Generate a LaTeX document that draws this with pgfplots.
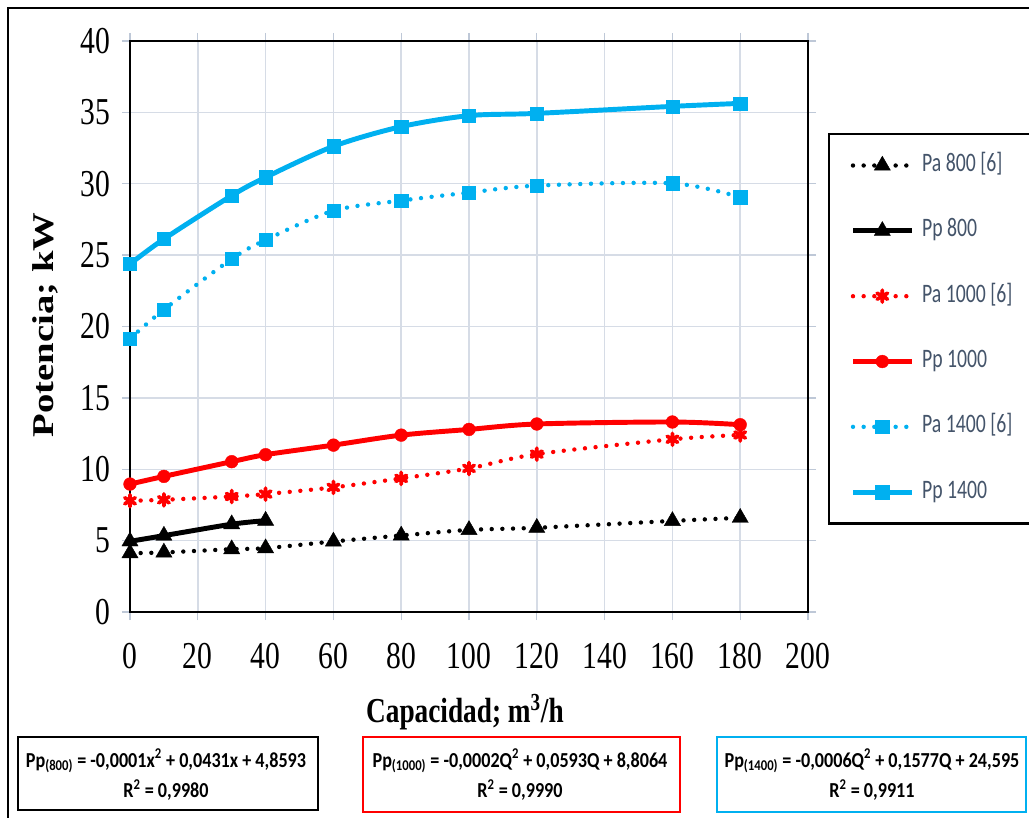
\documentclass[border=0pt]{standalone}
\usepackage{fontspec}
\usepackage{pgfplots}
\usepackage{pgfplotstable}
\pgfplotsset{compat=1.18}
\newfontfamily\tickfont[FakeStretch=0.78]{Liberation Serif}
\newfontfamily\serifplain{Liberation Serif}
\newfontfamily\legfont[FakeStretch=0.74]{Carlito}
\newfontfamily\boxfont[FakeStretch=0.85]{Carlito}
\definecolor{cyanx}{RGB}{0,176,240}
\definecolor{redx}{RGB}{255,0,0}
\definecolor{legtext}{RGB}{68,84,106}
\definecolor{gridc}{RGB}{214,220,230}
\definecolor{tickc}{RGB}{190,200,215}

\pgfplotstableread{
x y
0 4.12
10 4.17
30 4.40
40 4.47
60 4.94
80 5.36
100 5.75
120 5.90
160 6.38
180 6.60
}\paEight
\pgfplotstableread{
x y
0 4.95
10 5.35
30 6.15
40 6.40
}\ppEight
\pgfplotstableread{
x y
0 7.79
10 7.86
30 8.09
40 8.26
60 8.73
80 9.36
100 10.06
120 11.06
160 12.10
180 12.40
}\paMil
\pgfplotstableread{
x y
0 8.96
10 9.50
30 10.53
40 11.02
60 11.69
80 12.39
100 12.79
120 13.17
160 13.31
180 13.12
}\ppMil
\pgfplotstableread{
x y
0 19.15
10 21.18
30 24.73
40 26.06
60 28.11
80 28.82
100 29.38
120 29.87
160 30.03
180 29.05
}\paCuatro
\pgfplotstableread{
x y
0 24.38
10 26.13
30 29.17
40 30.45
60 32.62
80 34.00
100 34.77
120 34.93
160 35.42
180 35.63
}\ppCuatro

\begin{document}
\begin{tikzpicture}
\path[use as bounding box] (0,0) rectangle (771.75pt,613.5pt);
\begin{scope}[x=0.75pt,y=0.75pt]
  % outer frame
  \draw[line width=2.2pt,black] (8,-5) -- (8,810) -- (1040,810);
\end{scope}
\begin{axis}[
  at={(97.5pt,154.5pt)}, anchor=south west,
  scale only axis, width=508.5pt, height=428.25pt,
  xmin=0, xmax=200, ymin=0, ymax=40,
  xtick={0,20,...,200}, ytick={0,5,...,40},
  clip=false,
  grid=major,
  major grid style={gridc, line width=1.1pt},
  tick align=outside,
  major tick length=6pt,
  tick style={tickc, line width=1pt},
  axis line style={black, line width=1.3pt},
  /pgf/number format/assume math mode=true,
  ticklabel style={font=\tickfont\fontsize{28.5}{30}\selectfont},
  xticklabel style={yshift=-14pt},
  yticklabel style={xshift=-5pt},
  xlabel={\textbf{Capacidad; m\textsuperscript{3}/h}},
  xlabel style={font=\tickfont\fontsize{26.25}{30}\selectfont, at={(axis description cs:0.494,-0.175)}, anchor=center},
  ylabel={\scalebox{1}[0.78]{\serifplain\bfseries\fontsize{29}{30}\selectfont Potencia; kW}},
  ylabel style={at={(axis description cs:-0.125,0.503)}, anchor=center},
  legend style={at={(1.0295,0.8389)}, anchor=north west,
    draw=black, line width=1.8pt, inner xsep=16pt, inner ysep=15pt,
    row sep=32pt, column sep=6pt,
    nodes={inner sep=0pt, text height=13pt, text depth=4pt},
    font=\legfont\fontsize{20}{22}\selectfont, text=legtext},
  legend cell align=left,
  legend image code/.code={\draw[mark repeat=2,mark phase=2] plot coordinates {(0pt,0pt)(22pt,0pt)(44pt,0pt)};},
]
\addplot[black, line width=3.3pt, dash pattern=on 0pt off 8pt, line cap=round, smooth,
  mark=triangle*, mark size=7pt, mark options={solid, line width=0.3pt, fill=black}]
  table[x=x,y=y]{\paEight};
\addlegendentry{Pa 800 [6]}
\addplot[black, line width=3.7pt, smooth,
  mark=triangle*, mark size=7pt, mark options={solid, line width=0.3pt, fill=black}]
  table[x=x,y=y]{\ppEight};
\addlegendentry{Pp 800}
\addplot[redx, line width=3.3pt, dash pattern=on 0pt off 8pt, line cap=round, smooth,
  mark=asterisk, mark size=4.5pt, mark options={solid, line width=2.8pt}]
  table[x=x,y=y]{\paMil};
\addlegendentry{Pa 1000 [6]}
\addplot[redx, line width=3.7pt, smooth,
  mark=*, mark size=4.8pt, mark options={solid, fill=redx, line width=0.3pt}]
  table[x=x,y=y]{\ppMil};
\addlegendentry{Pp 1000}
\addplot[cyanx, line width=3.3pt, dash pattern=on 0pt off 8pt, line cap=round, smooth,
  mark=square*, mark size=5pt, mark options={solid, fill=cyanx, line width=0.3pt}]
  table[x=x,y=y]{\paCuatro};
\addlegendentry{Pa 1400 [6]}
\addplot[cyanx, line width=3.7pt, smooth,
  mark=square*, mark size=5pt, mark options={solid, fill=cyanx, line width=0.3pt}]
  table[x=x,y=y]{\ppCuatro};
\addlegendentry{Pp 1400}
\draw[black, line width=2.2pt] (rel axis cs:0,1) -- (rel axis cs:1,1) -- (rel axis cs:1,0);
\end{axis}
\begin{scope}[x=0.75pt,y=0.75pt, every node/.style={font=\boxfont\bfseries\fontsize{16}{18}\selectfont, inner sep=0pt}]
  \draw[black, line width=2.2pt] (18,81) rectangle (318,8);
  \node at (166,57) {Pp\textsubscript{(800)} = -0,0001x\textsuperscript{2} + 0,0431x + 4,8593};
  \node at (166,28) {R\textsuperscript{2} = 0,9980};
  \draw[redx, line width=2pt] (363,81) rectangle (680,6);
  \node at (520,57) {Pp\textsubscript{(1000)} = -0,0002Q\textsuperscript{2} + 0,0593Q + 8,8064};
  \node at (520,28) {R\textsuperscript{2} = 0,9990};
  \draw[cyanx, line width=2pt] (717,81) rectangle (1026,6);
  \node at (872,57) {Pp\textsubscript{(1400)} = -0,0006Q\textsuperscript{2} + 0,1577Q + 24,595};
  \node at (872,28) {R\textsuperscript{2} = 0,9911};
\end{scope}
\end{tikzpicture}
\end{document}
